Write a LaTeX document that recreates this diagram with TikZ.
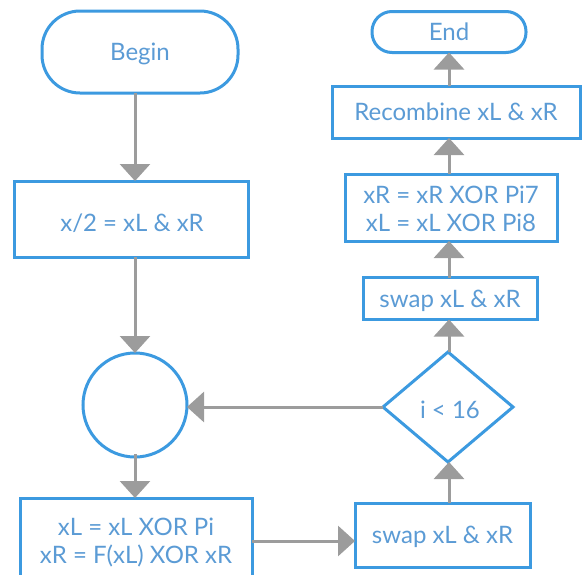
\documentclass[tikz,border=0pt]{standalone}
\usepackage{fontspec}
\setmainfont{Lato}
\usetikzlibrary{shapes.geometric,arrows.meta}
\definecolor{bord}{HTML}{3C9AE0}
\definecolor{txtc}{HTML}{5B9BD5}
\definecolor{conn}{HTML}{9C9C9C}
\tikzset{
  every node/.style={text=txtc, font=\fontsize{24}{28}\selectfont, inner sep=0pt, outer sep=0pt},
  oneline/.style={text height=17.2pt, text depth=0pt},
  procbox/.style={draw=bord, line width=3pt, rectangle, fill=white},
  termbox/.style={draw=bord, line width=3pt, rectangle, rounded corners=#1, fill=white},
  conbox/.style={draw=bord, line width=3pt, circle, fill=white},
  decbox/.style={draw=bord, line width=3pt, diamond, fill=white},
  flow/.style={draw=conn, line width=3pt, -{Triangle[width=30pt,length=17pt]}},
}
\begin{document}
\begin{tikzpicture}[x=1pt,y=-1pt]
\useasboundingbox (0,0) rectangle (582,574);
\clip (0,0) rectangle (582,574);
% nodes
\node[termbox=38pt, oneline, minimum width=196pt, minimum height=82pt] (begin) at (140,52) {Begin};
\node[procbox, minimum width=234pt, minimum height=76pt] (split) at (131,219) {};
\node[oneline] (splittext) at (132,223) {x/2 = xL \& xR};
\node[conbox, minimum size=104pt] (join) at (135,405) {};
\node[procbox, minimum width=232pt, minimum height=92pt] (round) at (136,544) {};
\node[align=center] (roundtext) at (136,542) {xL = xL XOR Pi\\xR = F(xL) XOR xR};
\node[procbox, oneline, minimum width=175pt, minimum height=64pt] (swapa) at (442.5,535) {swap xL \& xR};
\node[decbox, minimum width=130pt, minimum height=110pt, aspect=1.18] (test) at (448,407) {};
\node[oneline] (testtext) at (450,410) {i < 16};
\node[procbox, oneline, minimum width=174pt, minimum height=42pt] (swapb) at (450,298.5) {swap xL \& xR};
\node[procbox, minimum width=212pt, minimum height=67pt] (last) at (451,207.5) {};
\node[align=center] (lasttext) at (451,209) {xR = xR XOR Pi7\\xL = xL XOR Pi8};
\node[procbox, oneline, minimum width=248pt, minimum height=52pt] (recomb) at (456,112) {Recombine xL \& xR};
\node[termbox=20pt, oneline, minimum width=154pt, minimum height=41pt] (end) at (449,32) {End};
% connectors
\coordinate (colL) at (135,0);
\coordinate (colR) at (449,0);
\draw[flow] (begin.south -| colL) -- (split.north -| colL);
\draw[flow] (split.south -| colL) -- (join.north);
\draw[flow] ([yshift=3pt]join.south) -- (round.north -| colL);
\draw[flow] (round.east |- 0,541) -- (swapa.west |- 0,541);
\draw[flow] (swapa.north -| colR) -- (test.south -| colR);
\draw[flow] (test.west) -- (join.east |- test.west);
\draw[flow] (test.north -| colR) -- (swapb.south -| colR);
\draw[flow] (swapb.north -| colR) -- (last.south -| colR);
\draw[flow] (last.north -| colR) -- (recomb.south -| colR);
\draw[flow] (recomb.north -| colR) -- (end.south -| colR);
\end{tikzpicture}
\end{document}
